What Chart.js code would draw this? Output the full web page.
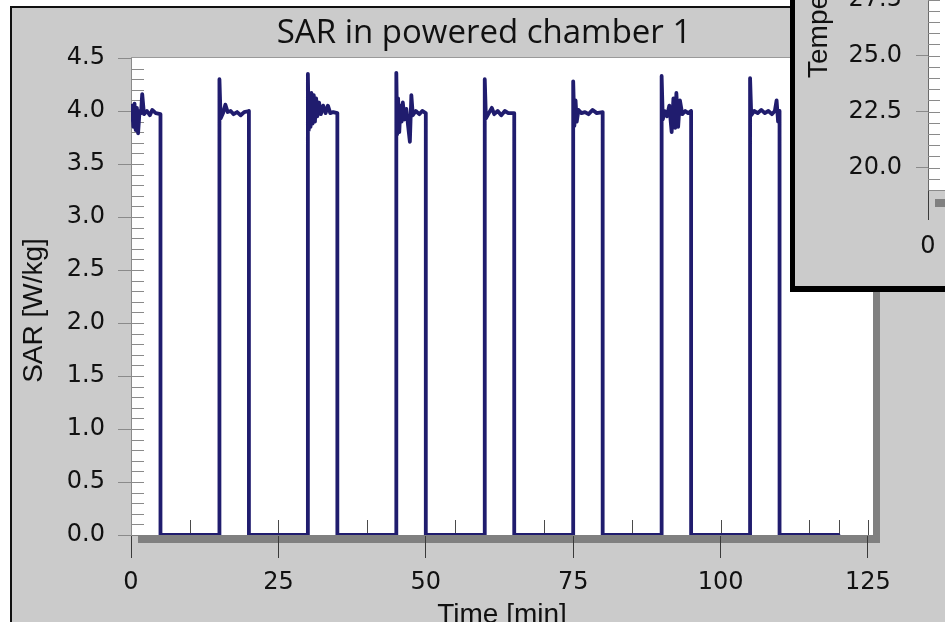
<!DOCTYPE html>
<html><head><meta charset="utf-8">
<script src="https://cdn.jsdelivr.net/npm/chart.js@4.4.1/dist/chart.umd.min.js"></script>
<style>
html,body{margin:0;padding:0;background:#fff;overflow:hidden;width:945px;height:622px;position:relative}
#main{position:absolute;left:0;top:0}
#inset{position:absolute;left:790px;top:-260px}
</style></head><body>
<canvas id="main" width="945" height="622"></canvas>
<canvas id="inset" width="400" height="552"></canvas>
<script>
const chartTitle = 'SAR in powered chamber 1';
const xAxisTitle = 'Time [min]';
const yAxisTitle = 'SAR [W/kg]';
const insetYAxisTitle = 'Temperature [°C]';

const xTickLabels = ['0', '25', '50', '75', '100', '125'];
const yTickLabels = ['0.0', '0.5', '1.0', '1.5', '2.0', '2.5', '3.0', '3.5', '4.0', '4.5'];
const insetYTickLabels = ['20.0', '22.5', '25.0', '27.5', '30.0', '32.5', '35.0', '37.5'];
const insetXTickLabels = ['0', '25', '50', '75', '100', '125'];

// Time [min], one line per pulse
const timeMin = [
  0, 0.2, 0.4, 0.6, 0.8, 1.0, 1.2, 1.45, 1.7, 1.9, 2.2, 2.7, 3.2, 3.6, 4.2, 5, 5,
  15, 15, 15.2, 15.6, 16.0, 16.4, 16.9, 17.4, 18.0, 18.6, 19.2, 20, 20,
  30, 30, 30.15, 30.3, 30.45, 30.6, 30.8, 31.0, 31.2, 31.4, 31.6, 31.9, 32.2, 32.6, 33.0, 33.4, 33.8, 34.3, 35, 35,
  45, 45, 45.15, 45.3, 45.5, 45.7, 45.9, 46.1, 46.4, 46.7, 47.0, 47.3, 47.55, 47.8, 48.3, 48.9, 49.4, 50, 50,
  60, 60, 60.2, 60.6, 61.2, 61.6, 62.2, 62.8, 63.4, 64.0, 65, 65,
  75, 75, 75.2, 75.4, 75.6, 75.9, 76.4, 77.0, 77.6, 78.3, 79.0, 80, 80,
  90, 90, 90.2, 90.5, 90.9, 91.3, 91.7, 92.0, 92.3, 92.5, 92.8, 93.1, 93.5, 94.0, 94.5, 95, 95,
  105, 105, 105.2, 105.7, 106.3, 106.9, 107.5, 108.1, 108.7, 109.2, 109.5, 109.75, 110, 110, 120
];
// SAR [W/kg]
const sarWkg = [
  3.92, 4.05, 3.85, 4.07, 3.82, 4.03, 3.79, 4.0, 3.98, 4.16, 3.97, 4.0, 3.96, 4.01, 3.98, 3.97, 0,
  0, 4.3, 3.93, 3.98, 4.06, 3.99, 4.0, 3.97, 3.99, 3.96, 3.99, 4.0, 0,
  0, 4.35, 3.82, 4.1, 3.85, 4.17, 3.88, 4.15, 3.9, 4.12, 3.95, 4.08, 3.97, 4.05, 3.98, 4.05, 3.98, 3.99, 3.98, 0,
  0, 4.36, 3.78, 4.12, 3.8, 4.05, 3.9, 4.08, 3.92, 4.02, 3.86, 3.71, 4.15, 3.96, 4.0, 3.97, 4.0, 3.98, 0,
  0, 4.3, 3.93, 3.97, 4.03, 3.97, 4.0, 3.96, 4.0, 3.98, 3.98, 0,
  0, 4.28, 3.86, 4.1, 3.9, 4.01, 3.98, 3.99, 3.97, 4.01, 3.98, 3.99, 0,
  0, 4.33, 3.92, 4.0, 3.95, 4.05, 3.8, 4.12, 3.84, 4.17, 3.85, 4.1, 3.97, 4.0, 3.98, 4.0, 0,
  0, 4.31, 3.96, 4.0, 3.98, 4.01, 3.98, 4.0, 3.97, 4.0, 4.1, 3.9, 4.0, 0, 0
];

const tickFont = {family: '"DejaVu Sans"', size: 24};
const titleFontFamily = '"Liberation Sans"';

function innerTicksY(chart, step, len, color) {
  const {ctx, chartArea: a, scales: {y}} = chart;
  ctx.save();
  ctx.strokeStyle = color; ctx.lineWidth = 1;
  ctx.beginPath();
  const n = Math.round((y.max - y.min) / step);
  for (let k = 1; k < n; k++) {
    const v = y.min + k * step;
    const py = Math.round(y.getPixelForValue(v)) + 0.5;
    ctx.moveTo(a.left, py); ctx.lineTo(a.left + len, py);
  }
  ctx.stroke();
  ctx.restore();
}

const mainDecor = {
  id: 'mainDecor',
  beforeDraw(chart) {
    const {ctx, chartArea: a, width: W, height: H} = chart;
    ctx.save();
    ctx.fillStyle = '#ffffff'; ctx.fillRect(0, 0, W, H);
    ctx.fillStyle = '#cbcbcb'; ctx.fillRect(10, 6, W, H);
    ctx.fillStyle = '#111111'; ctx.fillRect(10, 6, W, 2); ctx.fillRect(10, 6, 2, H);
    ctx.fillStyle = '#808080'; ctx.fillRect(a.left + 7, a.top + 8, a.width, a.height);
    ctx.fillStyle = '#ffffff'; ctx.fillRect(a.left, a.top, a.width, a.height);
    ctx.strokeStyle = '#9a9a9a'; ctx.lineWidth = 1;
    ctx.beginPath(); ctx.moveTo(a.left, a.top - 0.5); ctx.lineTo(a.right, a.top - 0.5); ctx.stroke();
    ctx.fillStyle = '#111111';
    ctx.font = '33px "Open Sans"'; ctx.textAlign = 'center'; ctx.textBaseline = 'alphabetic';
    ctx.fillText(chartTitle, 484, 43);
    ctx.translate(42, 310.5); ctx.rotate(-Math.PI / 2);
    ctx.font = '28px ' + titleFontFamily;
    ctx.fillText(yAxisTitle, 0, 0);
    ctx.restore();
  },
  beforeDatasetsDraw(chart) {
    const {ctx, chartArea: a, scales: {x}} = chart;
    innerTicksY(chart, 0.1, 13, '#8a8a8a');
    ctx.save();
    ctx.strokeStyle = '#4a4a4a'; ctx.lineWidth = 1;
    ctx.beginPath();
    for (let v = 5; v <= 125; v += 5) {
      const px = Math.round(x.getPixelForValue(v)) + 0.5;
      ctx.moveTo(px, a.bottom); ctx.lineTo(px, a.bottom - 15);
    }
    ctx.stroke();
    ctx.restore();
  }
};

new Chart(document.getElementById('main'), {
  type: 'scatter',
  data: {
    datasets: [{
      label: 'SAR',
      data: timeMin.map((t, i) => ({x: t, y: sarWkg[i]})),
      showLine: true,
      borderColor: '#201c6e',
      borderWidth: 3.8,
      borderJoinStyle: 'round',
      borderCapStyle: 'round',
      pointRadius: 0,
      tension: 0
    }]
  },
  options: {
    responsive: false, animation: false, devicePixelRatio: 1,
    layout: {padding: {left: 0, right: 72, top: 58, bottom: 0}},
    plugins: {legend: {display: false}, title: {display: false}, tooltip: {enabled: false}},
    scales: {
      x: {
        type: 'linear', min: 0, max: 125.85,
        afterFit: s => { s.height = 87; },
        ticks: {stepSize: 25, includeBounds: false, autoSkip: false, maxRotation: 0, padding: 10.5,
          color: '#111111', font: tickFont,
          callback: (v, i) => xTickLabels[i]},
        grid: {drawOnChartArea: false, drawTicks: true, tickLength: 23, color: '#3a3a3a', lineWidth: 1},
        border: {display: true, color: '#808080'},
        title: {display: true, text: xAxisTitle, color: '#111111',
          font: {family: titleFontFamily, size: 28, lineHeight: 0.5}, padding: {top: 0, bottom: 0}}
      },
      y: {
        type: 'linear', min: 0, max: 4.5,
        afterFit: s => { s.width = 131; },
        ticks: {stepSize: 0.5, includeBounds: false, autoSkip: false, padding: 13,
          color: '#111111', font: tickFont,
          callback: (v, i) => yTickLabels[i]},
        grid: {drawOnChartArea: false, drawTicks: true, tickLength: 13, color: '#8a8a8a', lineWidth: 1},
        border: {display: true, color: '#8a8a8a'}
      }
    }
  },
  plugins: [mainDecor]
});

const insetDecor = {
  id: 'insetDecor',
  beforeDraw(chart) {
    const {ctx, chartArea: a, width: W, height: H} = chart;
    ctx.save();
    ctx.fillStyle = '#cbcbcb'; ctx.fillRect(0, 0, W, H);
    ctx.fillStyle = '#000000'; ctx.fillRect(0, 0, 5, H); ctx.fillRect(0, H - 6, W, 6);
    ctx.fillStyle = '#808080'; ctx.fillRect(a.left + 7, a.bottom + 9, a.width, 8);
    ctx.fillStyle = '#ffffff'; ctx.fillRect(a.left, a.top, a.width, a.height);
    ctx.fillStyle = '#111111';
    ctx.translate(37, 338); ctx.rotate(-Math.PI / 2);
    ctx.font = '28px ' + titleFontFamily; ctx.textAlign = 'left'; ctx.textBaseline = 'alphabetic';
    ctx.fillText(insetYAxisTitle, 0, 0);
    ctx.restore();
  },
  beforeDatasetsDraw(chart) {
    innerTicksY(chart, 0.5, 12, '#8a8a8a');
  }
};

new Chart(document.getElementById('inset'), {
  type: 'scatter',
  data: {datasets: []},
  options: {
    responsive: false, animation: false, devicePixelRatio: 1,
    layout: {padding: {left: 0, right: 10, top: 35.6, bottom: 0}},
    plugins: {legend: {display: false}, title: {display: false}, tooltip: {enabled: false}},
    scales: {
      x: {
        type: 'linear', min: 0, max: 125,
        afterFit: s => { s.height = 102; },
        ticks: {stepSize: 25, includeBounds: false, autoSkip: false, maxRotation: 0, padding: 12,
          color: '#111111', font: tickFont, callback: (v, i) => insetXTickLabels[i]},
        grid: {drawOnChartArea: false, drawTicks: true, tickLength: 30, color: '#3a3a3a', lineWidth: 1},
        border: {display: true, color: '#8a8a8a'}
      },
      y: {
        type: 'linear', min: 19, max: 37.5,
        afterFit: s => { s.width = 138; },
        ticks: {stepSize: 2.5, includeBounds: false, autoSkip: false, padding: 14,
          color: '#111111', font: tickFont, callback: (v, i) => insetYTickLabels[i]},
        grid: {drawOnChartArea: false, drawTicks: true, tickLength: 12, color: '#8a8a8a', lineWidth: 1},
        border: {display: true, color: '#6a6a6a'}
      }
    }
  },
  plugins: [insetDecor]
});
</script>
</body></html>
